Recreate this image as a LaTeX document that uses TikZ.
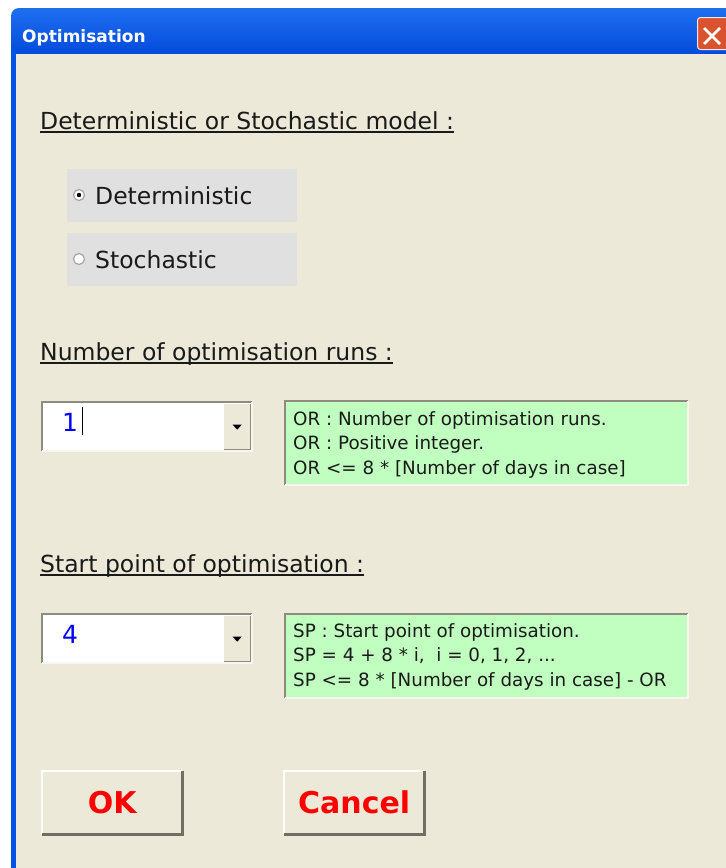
\documentclass[tikz,border=0pt]{standalone}
\usepackage{fontspec}
\setmainfont{DejaVu Sans}
\usetikzlibrary{positioning}

\definecolor{xpblue}{HTML}{0055E5}
\definecolor{xptop}{HTML}{1F6FF0}
\definecolor{xpbot}{HTML}{0046D8}
\definecolor{winbg}{HTML}{ECE9D8}
\definecolor{optgray}{HTML}{E0E0E0}
\definecolor{hintgreen}{HTML}{C0FFC0}
\definecolor{edgedark}{HTML}{8E8C80}
\definecolor{btnshadow}{HTML}{716F64}
\definecolor{closered}{HTML}{D9532E}
\definecolor{valblue}{HTML}{0000FF}
\definecolor{btnred}{HTML}{FF0000}
\definecolor{inktext}{HTML}{1A1A1A}

\tikzset{
  heading/.style={anchor=base west,inner sep=0pt,text=inktext,
    font=\fontsize{23.5}{28}\selectfont},
  uline/.style={inktext,line width=1.4pt},
  optbox/.style={anchor=north west,fill=optgray,inner sep=0pt,
    minimum width=230pt,minimum height=53pt},
  optlabel/.style={anchor=base west,inner sep=0pt,text=inktext,
    font=\fontsize{23.5}{28}\selectfont},
  radio/.style={circle,fill=white,draw=gray!70,line width=1.2pt,
    minimum size=11pt,inner sep=0pt},
  combo/.style={anchor=north west,fill=white,inner sep=0pt,
    minimum width=210pt,minimum height=49pt},
  dropbtn/.style={anchor=north east,fill=winbg,inner sep=0pt,
    minimum width=26pt,minimum height=45pt},
  comboval/.style={anchor=base west,inner sep=0pt,text=valblue,
    font=\fontsize{25}{30}\selectfont},
  hintbox/.style={anchor=north west,fill=hintgreen,inner sep=0pt,
    minimum width=403pt,minimum height=84pt},
  hintline/.style={anchor=base west,inner sep=0pt,text=inktext,
    font=\fontsize{18.3}{22}\selectfont},
  pushbtn/.style={anchor=north west,fill=winbg,inner sep=0pt,
    minimum width=140pt,minimum height=63pt,text=btnred,
    font=\fontsize{30}{36}\selectfont\bfseries},
}

\begin{document}
\begin{tikzpicture}[x=1pt,y=-1pt]
  \useasboundingbox (0,0) rectangle (726,868);
  \fill[white] (0,0) rectangle (726,868);

  % window frame and title bar
  \shade[top color=xptop,bottom color=xpbot,rounded corners=8pt]
    (11,60) -- (11,8) -- (740,8) -- (740,60) -- cycle;
  \fill[xpblue] (11,50) rectangle (16,868);
  \fill[winbg] (16,54) rectangle (726,868);
  \node[anchor=base west,inner sep=0pt,text=white,
    font=\fontsize{17}{20}\selectfont\bfseries] (title) at (22,42) {Optimisation};
  \node[anchor=north west,fill=closered,draw=white!85!closered,line width=1pt,
    rounded corners=3pt,minimum width=40pt,minimum height=32pt] (closebtn) at (697,17) {};
  \draw[white,line width=2.6pt]
    ([shift={(7,11)}]closebtn.north west) -- ([shift={(23,27)}]closebtn.north west)
    ([shift={(7,27)}]closebtn.north west) -- ([shift={(23,11)}]closebtn.north west);

  % model choice
  \node[heading] (hmodel) at (40,129) {Deterministic or Stochastic model :};
  \draw[uline] ([yshift=-3pt]hmodel.base west) -- ([yshift=-3pt]hmodel.base east);

  \node[optbox] (optdet) at (67,169) {};
  \node[optbox] (optsto) at (67,233) {};
  \node[radio] (raddet) at (79,195) {};
  \node[radio] (radsto) at (79,259) {};
  \fill[black] (raddet) circle (2.2pt);
  \node[optlabel] (labdet) at (95,204) {Deterministic};
  \node[optlabel] (labsto) at (95,268) {Stochastic};

  % number of runs
  \node[heading] (hruns) at (40,360) {Number of optimisation runs :};
  \draw[uline] ([yshift=-3pt]hruns.base west) -- ([yshift=-3pt]hruns.base east);

  \node[combo] (runsfield) at (42,402) {};
  \draw[edgedark,line width=2pt] (runsfield.south west) -- (runsfield.north west) -- (runsfield.north east);
  \draw[white!60!winbg,line width=2pt] (runsfield.south west) -- (runsfield.south east) -- (runsfield.north east);
  \node[dropbtn] (runsdrop) at ([shift={(-2,2)}]runsfield.north east) {};
  \draw[edgedark,line width=1.5pt] (runsdrop.north east) -- (runsdrop.south east) -- (runsdrop.south west);
  \fill[shift={(runsdrop.center)}] (-4.5,-2) -- (4.5,-2) -- (0,3) -- cycle;
  \node[comboval] (runsval) at (62,431) {1};
  \draw[line width=1.3pt] ([xshift=4pt,yshift=-4pt]runsval.base east) -- ([xshift=4pt,yshift=24pt]runsval.base east);

  \node[hintbox] (runshint) at (285,401) {};
  \draw[edgedark,line width=2pt] (runshint.south west) -- (runshint.north west) -- (runshint.north east);
  \draw[white!60!winbg,line width=2pt] (runshint.south west) -- (runshint.south east) -- (runshint.north east);
  \foreach \txt [count=\i] in {{OR : Number of optimisation runs.},
      {OR : Positive integer.},
      {OR <= 8 * [Number of days in case]}}
    \node[hintline] (runsline\i) at (293,400.5+24.5*\i) {\txt};

  % start point
  \node[heading] (hstart) at (40,572) {Start point of optimisation :};
  \draw[uline] ([yshift=-3pt]hstart.base west) -- ([yshift=-3pt]hstart.base east);

  \node[combo] (startfield) at (42,614) {};
  \draw[edgedark,line width=2pt] (startfield.south west) -- (startfield.north west) -- (startfield.north east);
  \draw[white!60!winbg,line width=2pt] (startfield.south west) -- (startfield.south east) -- (startfield.north east);
  \node[dropbtn] (startdrop) at ([shift={(-2,2)}]startfield.north east) {};
  \draw[edgedark,line width=1.5pt] (startdrop.north east) -- (startdrop.south east) -- (startdrop.south west);
  \fill[shift={(startdrop.center)}] (-4.5,-2) -- (4.5,-2) -- (0,3) -- cycle;
  \node[comboval] (startval) at (62,643) {4};

  \node[hintbox] (starthint) at (285,614) {};
  \draw[edgedark,line width=2pt] (starthint.south west) -- (starthint.north west) -- (starthint.north east);
  \draw[white!60!winbg,line width=2pt] (starthint.south west) -- (starthint.south east) -- (starthint.north east);
  \foreach \txt [count=\i] in {{SP : Start point of optimisation.},
      {SP = 4 + 8 * i,~ i = 0, 1, 2, .\kern0pt.\kern0pt.},
      {SP <= 8 * [Number of days in case] - OR}}
    \node[hintline] (startline\i) at (293,612.5+24.5*\i) {\txt};

  % buttons
  \node[pushbtn] (okbtn) at (42,771) {OK};
  \node[pushbtn] (cancelbtn) at (284,771) {Cancel};
  \foreach \b in {okbtn,cancelbtn} {
    \draw[white,line width=2pt] (\b.south west) -- (\b.north west) -- (\b.north east);
    \draw[btnshadow,line width=3pt] (\b.north east) -- (\b.south east) -- (\b.south west);
  }
\end{tikzpicture}
\end{document}
